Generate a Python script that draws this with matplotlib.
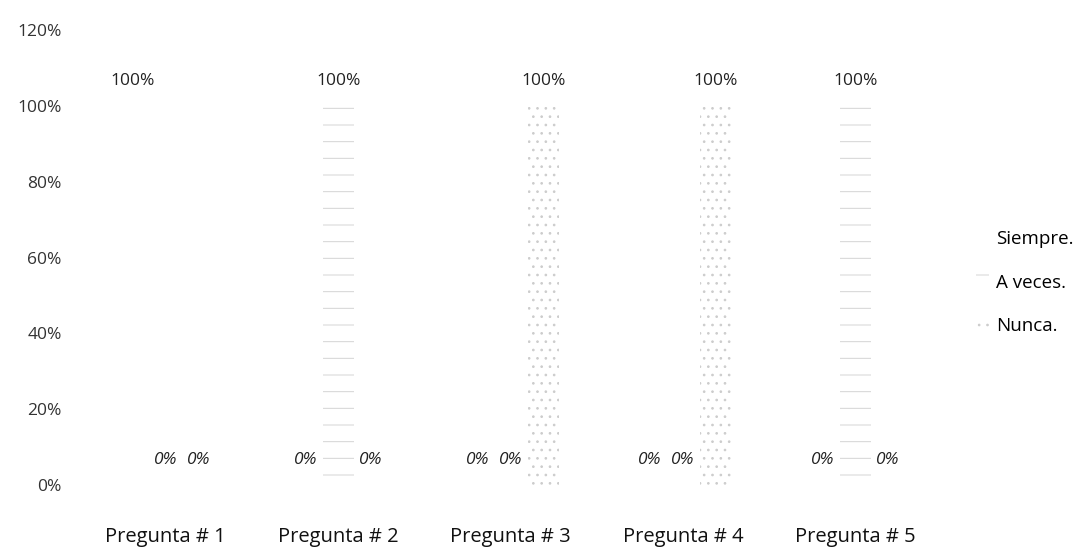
import matplotlib
matplotlib.use("Agg")
import matplotlib.pyplot as plt
import numpy as np

plt.rcParams['font.family'] = ['Open Sans', 'DejaVu Sans']
plt.rcParams['hatch.linewidth'] = 0.7

categories = ["Pregunta # 1", "Pregunta # 2", "Pregunta # 3", "Pregunta # 4", "Pregunta # 5"]
series_names = ["Siempre.", "A veces.", "Nunca."]
siempre = [1.00, 0.00, 0.00, 0.00, 0.00]
a_veces = [0.00, 1.00, 0.00, 0.00, 1.00]
nunca = [0.00, 0.00, 1.00, 1.00, 0.00]
yticks = [0.0, 0.2, 0.4, 0.6, 0.8, 1.0, 1.2]

fig = plt.figure(figsize=(10.91, 5.54), dpi=100)
ax = fig.add_axes([0.073, 0.1245, 0.79, 0.8213])

x = np.arange(len(categories))
width = 0.18
offsets = [-0.19, 0.0, 0.19]
styles = [
    dict(facecolor="white", edgecolor="white", hatch=None),
    dict(facecolor="white", edgecolor="#d4d4d4", hatch="-"),
    dict(facecolor="white", edgecolor="#cccccc", hatch=".."),
]
all_series = [siempre, a_veces, nunca]
for vals, off, st, name in zip(all_series, offsets, styles, series_names):
    bars = ax.bar(x + off, vals, width, label=name, linewidth=0, **st)
    for b, v in zip(bars, vals):
        txt = f"{v*100:.0f}%"
        ax.text(b.get_x() + b.get_width() / 2, v + 0.065, txt,
                ha="center", va="center", fontsize=12.5,
                style="italic" if v == 0 else "normal", color="#222222")

ax.set_ylim(0, 1.2)
ax.set_xlim(-0.5, len(categories) - 0.5)
ax.set_yticks(yticks)
ax.set_yticklabels([f"{t*100:.0f}%" for t in yticks], fontsize=12.5, color="#333333")
ax.set_xticks(x)
ax.set_xticklabels(categories, fontsize=14.5, color="#111111")
ax.tick_params(axis="both", length=0)
ax.tick_params(axis="y", pad=13)
ax.tick_params(axis="x", pad=30)
for s in ax.spines.values():
    s.set_visible(False)

leg = ax.legend(loc="center left", bbox_to_anchor=(1.02, 0.445), frameon=False,
                fontsize=13.5, handlelength=0.7, handleheight=0.7,
                labelspacing=1.35, handletextpad=0.4)

fig.savefig("out.png", dpi=100, facecolor="white")
